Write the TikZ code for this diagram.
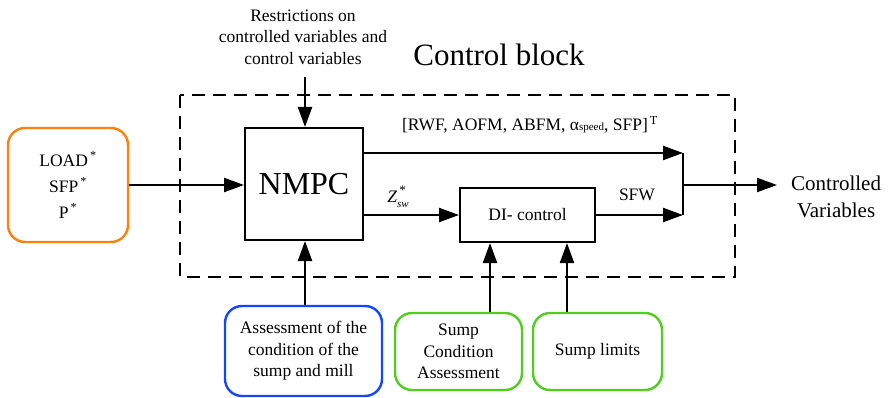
\documentclass[tikz,border=0pt]{standalone}
\usepackage{fontspec}
\setmainfont{Liberation Serif}
\usetikzlibrary{arrows.meta}
\definecolor{boxorange}{RGB}{255,128,10}
\definecolor{boxblue}{RGB}{20,70,255}
\definecolor{boxgreen}{RGB}{80,205,30}
\newcommand{\refmark}{\textsuperscript{\,*}}
\begin{document}
\begin{tikzpicture}[x=1pt,y=-1pt,
  every node/.style={font=\fontsize{17.5}{21.5}\selectfont, align=center},
  blk/.style={draw, line width=2pt, inner sep=0pt},
  rbox/.style={draw, line width=2.4pt, rounded corners=17pt, inner sep=0pt},
  arr/.style={line width=2.2pt, -{Triangle[length=20pt,width=14pt]}},
  wire/.style={line width=2.2pt},
  frame/.style={line width=2pt, dash pattern=on 13pt off 8pt}]
\useasboundingbox (0,0) rectangle (891,398);

% control block frame and title
\draw[frame] (180,95) rectangle (735,277);
\node[font=\fontsize{31}{31}\selectfont] (title) at (499,55) {Control block};

% main blocks
\node[blk, minimum width=118pt, minimum height=112pt, font=\fontsize{32}{32}\selectfont]
  (nmpc) at (304,184) {NMPC};
\node[blk, minimum width=135pt, minimum height=54pt] (di) at (527.5,215) {DI- control};

% inputs
\node[rbox, draw=boxorange, minimum width=120pt, minimum height=114pt,
  font=\fontsize{17.5}{26}\selectfont] (ref) at (68,185)
  {LOAD\refmark\\SFP\refmark\\P\refmark};
\node (restr) at (303,37) {Restrictions on\\controlled variables and\\control variables};
\node[rbox, draw=boxblue, minimum width=157pt, minimum height=90pt] (assess) at (303.5,351)
  {Assessment of the\\condition of the\\sump and mill};
\node[rbox, draw=boxgreen, minimum width=127pt, minimum height=77pt] (sca) at (458.5,351.5)
  {Sump\\Condition\\Assessment};
\node[rbox, draw=boxgreen, minimum width=129pt, minimum height=77pt] (lim) at (597.5,351.5)
  {Sump limits};

% output label
\node[anchor=west, inner xsep=14pt, inner ysep=0pt, font=\fontsize{21}{27}\selectfont]
  (cv) at (777,197) {Controlled\\Variables};

% junction points on the summing line
\coordinate (jt) at (683,153);
\coordinate (jb) at (683,215);
\coordinate (jm) at (683,185);
\coordinate (rs) at (305,77);
\coordinate (ua) at (490,0);
\coordinate (ub) at (567,0);

% connectors
\draw[arr] (ref.east |- jm) -- (nmpc.west |- jm);
\draw[arr] (rs) -- (rs |- nmpc.north);
\draw[arr] (assess.north -| rs) -- (rs |- nmpc.south);
\draw[arr] (sca.north -| ua) -- (ua |- di.south);
\draw[arr] (lim.north -| ub) -- (ub |- di.south);
\draw[arr] (nmpc.east |- jt) -- (jt);
\draw[arr] (nmpc.east |- jb) -- (di.west);
\draw[arr] (di.east) -- (jb);
\draw[wire] (jt) -- (jb);
\draw[arr] (jm) -- (jm -| cv.west);

% signal labels
\node (vec) at (530,125) {[RWF, AOFM, ABFM, α{\fontsize{11}{11}\selectfont speed}, SFP]\textsuperscript{\,T}};
\node (zsw) at (398,197) {\textit{Z}\rlap{\raisebox{8pt}{\fontsize{13}{13}\selectfont\,*}}\raisebox{-5pt}{\fontsize{11}{11}\selectfont\itshape sw}};
\node (sfw) at (637,195) {SFW};
\end{tikzpicture}
\end{document}
